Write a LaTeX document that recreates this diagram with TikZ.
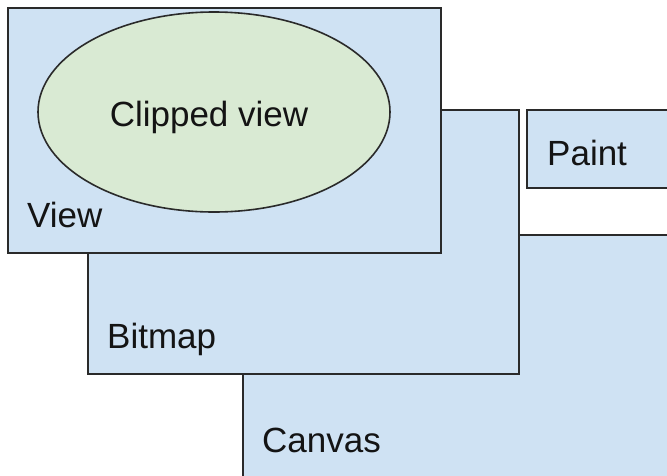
\documentclass[tikz,border=0pt]{standalone}
\usepackage{fontspec}
\setmainfont{Liberation Sans}
\definecolor{layerblue}{HTML}{CFE2F3}
\definecolor{clipgreen}{HTML}{D9EAD3}
\definecolor{edgegray}{HTML}{2A2A2A}
\tikzset{
  layer/.style={draw=edgegray, fill=layerblue, line width=1.6pt},
  tag/.style={inner sep=0pt, font=\fontsize{35}{40}\selectfont, text=black!92}
}
\begin{document}
\begin{tikzpicture}[x=1pt,y=-1pt]
  \useasboundingbox (0,0) rectangle (667,475);
  \clip (0,0) rectangle (667,475);
  % back to front
  \draw[layer] (243,235) rectangle (700,510);
  \node[tag,anchor=base west] (canvas) at (262,452) {Canvas};
  \draw[layer] (88,110) rectangle (519,374);
  \node[tag,anchor=base west] (bitmap) at (107,348) {Bitmap};
  \draw[layer] (8,8) rectangle (441,253);
  \node[tag,anchor=base west] (view) at (27,227) {View};
  \draw[draw=edgegray, fill=clipgreen, line width=1.6pt] (214,112) ellipse [x radius=176, y radius=100];
  \node[tag,anchor=base] (clipped) at (209,126) {Clipped view};
  \draw[layer] (527,110) rectangle (700,188);
  \node[tag,anchor=base west] (paint) at (547,165) {Paint};
\end{tikzpicture}
\end{document}
